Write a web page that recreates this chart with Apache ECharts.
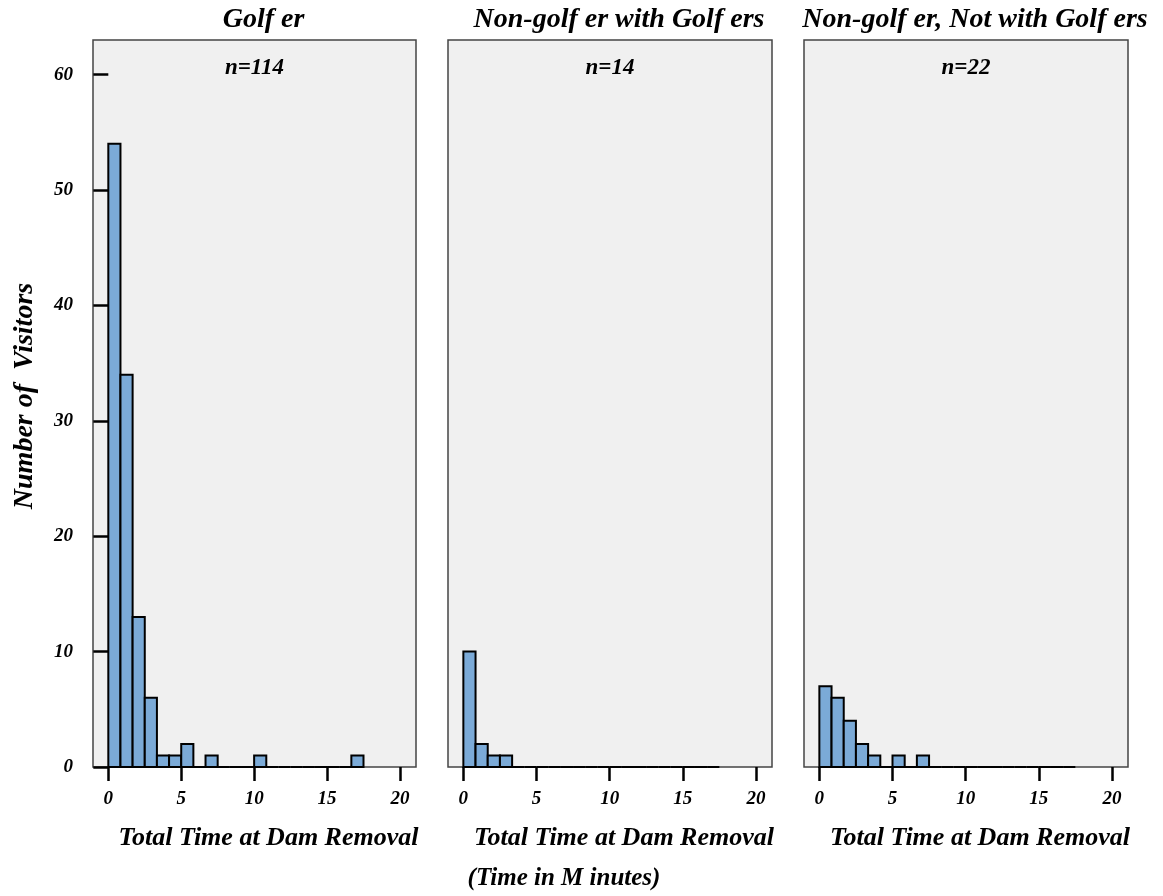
<!DOCTYPE html>
<html>
<head>
<meta charset="utf-8">
<script src="https://cdn.jsdelivr.net/npm/echarts@6/dist/echarts.min.js"></script>
<style>
html,body{margin:0;padding:0;background:#fff;}
#chart{width:1163px;height:896px;}
</style>
</head>
<body>
<div id="chart"></div>
<script>
// ---- Data ----
var panelTitles = ['Golf er', 'Non-golf er with Golf ers', 'Non-golf er, Not with Golf ers'];
var panelN = ['n=114', 'n=14', 'n=22'];
var binWidth = 17.5 / 21; // minutes per bin
var golferCounts        = [54,34,13,6,1,1,2,0,1,0,0,0,1,0,0,0,0,0,0,0,1];
var nonGolferWithCounts = [10,2,1,1,0,0,0,0,0,0,0,0,0,0,0,0,0,0,0,0,0];
var nonGolferNotCounts  = [7,6,4,2,1,0,1,0,1,0,0,0,0,0,0,0,0,0,0,0,0];
var xTickValues = [0,5,10,15,20];
var yTickValues = [0,10,20,30,40,50,60];
var xAxisTitle = 'Total Time at Dam Removal';
var yAxisTitle = 'Number of  Visitors';
var unitNote = '(Time in M inutes)';

var allCounts = [golferCounts, nonGolferWithCounts, nonGolferNotCounts];

var FONT = '"Liberation Serif", "Times New Roman", serif';
var grids = [
  {left: 93, top: 40, width: 323, height: 727},
  {left: 448, top: 40, width: 324, height: 727},
  {left: 804, top: 40, width: 324, height: 727}
];

function toBins(counts) {
  return counts.map(function (c, i) { return [i * binWidth, (i + 1) * binWidth, c]; });
}

function renderItem(params, api) {
  var p0 = api.coord([api.value(0), api.value(2)]);
  var p1 = api.coord([api.value(1), 0]);
  return {
    type: 'rect',
    shape: {x: p0[0], y: p0[1], width: p1[0] - p0[0], height: p1[1] - p0[1]},
    style: {fill: '#7BAAD7', stroke: '#000', lineWidth: 2}
  };
}

var xAxes = [], yAxes = [], series = [], gridOpts = [], graphics = [];
grids.forEach(function (g, i) {
  gridOpts.push({left: g.left, top: g.top, width: g.width, height: g.height,
    show: true, backgroundColor: '#f0f0f0', borderColor: '#444', borderWidth: 1.5});
  xAxes.push({
    type: 'value', gridIndex: i, min: -1.05, max: 21.1,
    splitLine: {show: false},
    axisLine: {show: false},
    axisTick: {show: true, customValues: xTickValues, length: 14, lineStyle: {color: '#000', width: 2.5}},
    axisLabel: {customValues: xTickValues, margin: 23, color: '#000', fontFamily: FONT,
      fontStyle: 'italic', fontWeight: 'bold', fontSize: 19}
  });
  yAxes.push({
    type: 'value', gridIndex: i, min: 0, max: 63,
    splitLine: {show: false},
    axisLine: {show: false},
    axisTick: {show: i === 0, customValues: yTickValues, length: 15, lineStyle: {color: '#000', width: 2.5}},
    axisLabel: {show: i === 0, customValues: yTickValues, margin: 20, color: '#000', fontFamily: FONT,
      fontStyle: 'italic', fontWeight: 'bold', fontSize: 19}
  });
  series.push({
    type: 'custom', xAxisIndex: i, yAxisIndex: i, renderItem: renderItem,
    data: toBins(allCounts[i]), clip: false
  });
  var cx = g.left + g.width / 2;
  graphics.push({type: 'text', z: 10,
    style: {text: panelTitles[i], x: cx + 9, y: 20, align: 'center', verticalAlign: 'middle',
      font: 'italic bold 28px ' + FONT, fill: '#000'}});
  graphics.push({type: 'text', z: 10,
    style: {text: panelN[i], x: cx, y: 68, align: 'center', verticalAlign: 'middle',
      font: 'italic bold 23px ' + FONT, fill: '#000'}});
  graphics.push({type: 'text', z: 10,
    style: {text: xAxisTitle, x: cx + 14, y: 838, align: 'center', verticalAlign: 'middle',
      font: 'italic bold 26px ' + FONT, fill: '#000'}});
});
graphics.push({type: 'text', z: 10,
  style: {text: unitNote, x: 564, y: 879, align: 'center', verticalAlign: 'middle',
    font: 'italic bold 25px ' + FONT, fill: '#000'}});
graphics.push({type: 'text', z: 10, rotation: Math.PI / 2, x: 25, y: 396,
  style: {text: yAxisTitle, x: 0, y: 0, align: 'center', verticalAlign: 'middle',
    font: 'italic bold 28px ' + FONT, fill: '#000'}});

var chart = echarts.init(document.getElementById('chart'), null, {renderer: 'canvas'});
chart.setOption({
  animation: false,
  backgroundColor: '#fff',
  grid: gridOpts,
  xAxis: xAxes,
  yAxis: yAxes,
  series: series,
  graphic: graphics
});
</script>
</body>
</html>
